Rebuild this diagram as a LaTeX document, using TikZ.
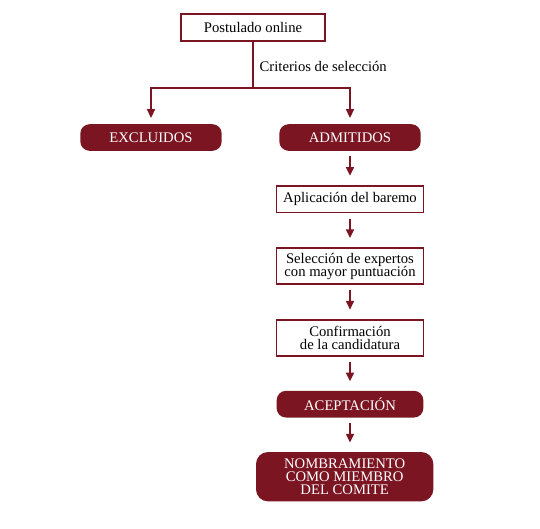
\documentclass[tikz,border=0pt]{standalone}
\usepackage{fontspec}
\setmainfont{Liberation Serif}
\usepackage{xcolor}
\usepackage{tikz}
\usetikzlibrary{arrows.meta,positioning}
\definecolor{vino}{HTML}{7B1522}

\begin{document}
\begin{tikzpicture}[
  x=0.75pt,y=-0.75pt,
  node distance=25.5pt and 8mm,
  caja/.style={draw=vino,line width=1.2pt,fill=white,align=center,minimum width=110pt,minimum height=20pt,inner sep=2pt,font=\fontsize{11}{10}\selectfont},
  pill/.style={fill=vino,text=white,rounded corners=7pt,align=center,minimum width=106pt,minimum height=20pt,inner sep=2pt,font=\fontsize{11}{10}\selectfont},
  line/.style={-{Triangle[length=6.5pt,width=6pt]},line width=1.2pt,draw=vino},
  flecha/.style={line,shorten <=4pt,shorten >=7pt}
]
\useasboundingbox (0,0) rectangle (540,529);
\node[caja,minimum width=108pt] (post) at (253,27.5) {Postulado online};
\node[pill] (excl) at (151,137.5) {EXCLUIDOS};
\node[pill] (adm) at (350,137.5) {ADMITIDOS};
\node[caja,below=of adm] (baremo) {Aplicación del baremo};
\node[caja,below=of baremo,minimum height=27pt] (selec) {Selección de expertos\\con mayor puntuación};
\node[caja,below=of selec,minimum height=27pt] (confirm) {Confirmación\\de la candidatura};
\node[pill,below=of confirm,minimum width=110pt] (acept) {ACEPTACIÓN};
\node[pill,below=of acept,minimum width=133pt,minimum height=37pt,rounded corners=9pt,xshift=-4pt] (nomb) {NOMBRAMIENTO\\COMO MIEMBRO\\DEL COMITE};
\coordinate (split) at (post.south |- 0,88);
\draw[line width=1.2pt,draw=vino] (post.south) -- (split);
\draw[line,shorten >=4.5pt] (split) -| (excl.north);
\draw[line,shorten >=4.5pt] (split) -| (adm.north);
\node[anchor=west,font=\fontsize{11}{10}\selectfont] (crit) at (255,66) {Criterios de selección};
\draw[flecha] (adm) -- (baremo);
\draw[flecha] (baremo) -- (selec);
\draw[flecha] (selec) -- (confirm);
\draw[flecha] (confirm) -- (acept);
\draw[flecha] (acept) -- (acept |- nomb.north);
\end{tikzpicture}
\end{document}
